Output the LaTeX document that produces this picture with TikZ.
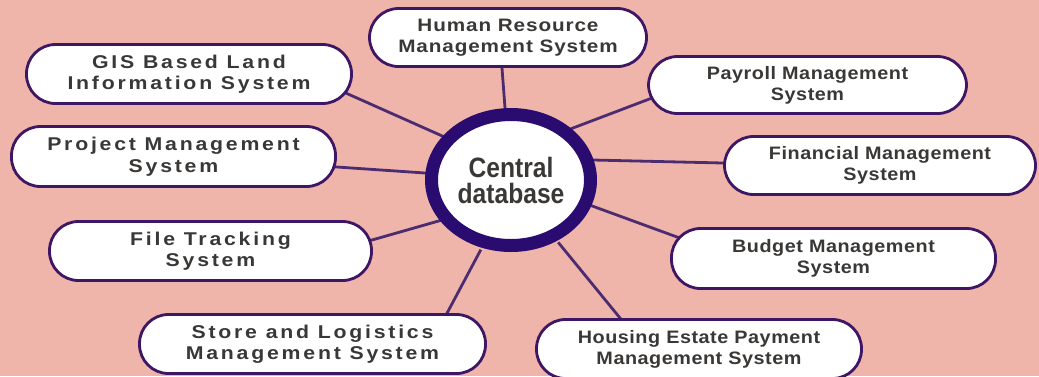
\documentclass[tikz,border=0pt]{standalone}
\usepackage{fontspec}
\setmainfont{Liberation Sans}
\newfontfamily\pillwide{Liberation Sans}[FakeStretch=1.15, LetterSpace=15]
\newfontfamily\pillmid{Liberation Sans}[FakeStretch=1.15, LetterSpace=5]
\newfontfamily\pillnarrow{Liberation Sans}[FakeStretch=1.1, LetterSpace=3]
\newfontfamily\cenfont{Liberation Sans}[FakeStretch=0.88]
\usetikzlibrary{shapes.geometric,calc}
\definecolor{bgpink}{RGB}{240,181,170}
\definecolor{pillborder}{RGB}{62,22,102}
\definecolor{circborder}{RGB}{42,12,112}
\definecolor{linkcol}{RGB}{76,44,112}
\definecolor{txtgray}{RGB}{58,56,54}
\pgfdeclarelayer{bgl}
\pgfdeclarelayer{lnl}
\pgfsetlayers{bgl,lnl,main}
\begin{document}
\begin{tikzpicture}[x=1pt,y=-1pt,
  pill/.style={draw=pillborder, line width=2.8pt, fill=white, rounded corners=29pt,
    align=center, text=txtgray, inner sep=0pt},
  pillW/.style={pill, font=\pillwide\fontsize{18.5}{21.5}\selectfont\bfseries},
  pillM/.style={pill, font=\pillmid\fontsize{18}{20.5}\selectfont\bfseries},
  pillN/.style={pill, font=\pillnarrow\fontsize{18}{21}\selectfont\bfseries},
  hub/.style={ellipse, draw=circborder, line width=13pt, fill=white,
    minimum width=159pt, minimum height=131pt, inner sep=0pt, align=center,
    text=txtgray, font=\cenfont\fontsize{28}{26}\selectfont\bfseries},
  link/.style={draw=linkcol, line width=2.8pt, shorten <=-6pt, shorten >=-6pt}]
\useasboundingbox (0,0) rectangle (1039,376);
\begin{pgfonlayer}{bgl}
  \fill[bgpink] (0,0) rectangle (1039,376);
\end{pgfonlayer}

\node[hub] (c) at (511,180) {Central\\database};

\node[pillM, minimum width=277pt, minimum height=58pt] (hr) at (508,37.5) {Human Resource\\Management System};
\node[pillW, minimum width=325pt, minimum height=59pt] (gis) at (189,74) {GIS Based Land\\Information System};
\node[pillW, minimum width=324pt, minimum height=60pt] (proj) at (173.5,156.5) {Project Management\\System};
\node[pillW, minimum width=322pt, minimum height=59pt] (file) at (210.5,251) {File Tracking\\System};
\node[pillW, minimum width=346pt, minimum height=59pt] (store) at (312.5,344) {Store and Logistics\\Management System};
\node[pillN, minimum width=318pt, minimum height=57pt] (pay) at (807.5,85) {Payroll Management\\System};
\node[pillN, minimum width=311pt, minimum height=58pt] (fin) at (880,165.5) {Financial Management\\System};
\node[pillN, minimum width=324pt, minimum height=60pt] (bud) at (833.5,258.5) {Budget Management\\System};
\node[pillN, minimum width=325pt, minimum height=59pt] (hous) at (699,349) {Housing Estate Payment\\Management System};

\begin{pgfonlayer}{lnl}
  \draw[link] ($(c.center)+(-6,-72)$) -- ($(hr.center)+(-6,30.5)$);
  \draw[link] ($(c.center)+(-71,-45)$) -- ($(gis.center)+(159,20)$);
  \draw[link] ($(c.center)+(-86,-7)$) -- ($(proj.center)+(163.5,10.5)$);
  \draw[link] ($(c.center)+(-76,42)$) -- ($(file.center)+(161.5,-11)$);
  \draw[link] ($(c.center)+(-33,75)$) -- ($(store.center)+(132.5,-27)$);
  \draw[link] ($(c.center)+(62,-52)$) -- ($(pay.center)+(-155.5,13)$);
  \draw[link] ($(c.center)+(82,-20)$) -- ($(fin.center)+(-157,-2.5)$);
  \draw[link] ($(c.center)+(84,27)$) -- ($(bud.center)+(-156.5,-21.5)$);
  \draw[link] ($(c.center)+(51,67)$) -- ($(hous.center)+(-79,-31)$);
\end{pgfonlayer}
\end{tikzpicture}
\end{document}
